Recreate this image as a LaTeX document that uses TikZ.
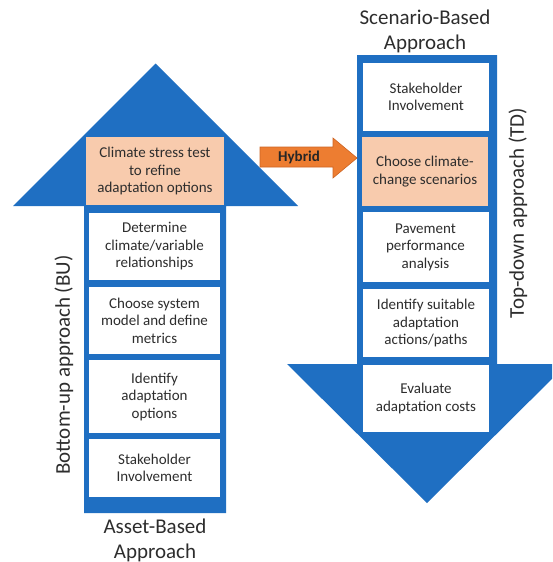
\documentclass[tikz,border=0pt]{standalone}
\usepackage{fontspec}
\setmainfont{Carlito}
\definecolor{flowblue}{RGB}{31,111,194}
\definecolor{peach}{RGB}{248,203,173}
\definecolor{hybridorange}{RGB}{237,125,49}
\definecolor{hybridedge}{RGB}{205,100,35}
\definecolor{inktext}{RGB}{45,45,45}
\begin{document}
\begin{tikzpicture}[x=1pt,y=-1pt,
  stagebox/.style={fill=white, inner sep=0pt, align=center, text=inktext,
    font=\fontsize{15}{17.5}\selectfont},
  leftbox/.style={stagebox, minimum width=131pt},
  rightbox/.style={stagebox, minimum width=126pt},
  keybox/.style={fill=peach},
  heading/.style={inner sep=0pt, align=center, text=inktext,
    font=\fontsize{21}{25}\selectfont},
  sidelabel/.style={inner sep=0pt, text=inktext, rotate=90,
    font=\fontsize{21}{25}\selectfont}]
\useasboundingbox (0,0) rectangle (552,562);
\clip (0,0) rectangle (552,562);

% bottom-up arrow (pointing up)
\fill[flowblue] (84,513) -- (84,206) -- (13,206) -- (155.5,63.5) -- (298,206)
  -- (226,206) -- (226,513) -- cycle;
% top-down arrow (pointing down)
\fill[flowblue] (357,55) -- (497,55) -- (497,364) -- (567,364) -- (427,503)
  -- (287,364) -- (357,364) -- cycle;

% bottom-up stages
\node[leftbox, keybox, minimum width=138pt, minimum height=68pt] (bu5) at (155,171)
  {Climate stress test\\to refine\\adaptation options};
\node[leftbox, minimum height=67pt] (bu4) at (154.5,246.5)
  {Determine\\climate/variable\\relationships};
\node[leftbox, minimum height=67pt] (bu3) at (154.5,320.5)
  {Choose system\\model and define\\metrics};
\node[leftbox, minimum height=73pt] (bu2) at (154.5,396.5)
  {Identify\\adaptation\\options};
\node[leftbox, minimum height=58pt] (bu1) at (154.5,468)
  {Stakeholder\\Involvement};

% top-down stages
\node[rightbox, minimum height=68pt] (td1) at (426,97)
  {Stakeholder\\Involvement};
\node[rightbox, keybox, minimum width=126pt, minimum height=69pt] (td2) at (425,171.5)
  {Choose climate-\\change scenarios};
\node[rightbox, minimum height=70pt] (td3) at (425.5,247)
  {Pavement\\performance\\analysis};
\node[rightbox, minimum height=68pt] (td4) at (426,323)
  {Identify suitable\\adaptation\\actions/paths};
\node[rightbox, minimum height=67pt] (td5) at (426,398.5)
  {Evaluate\\adaptation costs};

% hybrid link between the two approaches
\fill[hybridorange, draw=hybridedge, line width=0.6pt]
  (260,147) -- (333,147) -- (333,138) -- (357,158) -- (333,178)
  -- (333,167) -- (260,167) -- cycle;
\node[inner sep=0pt, text=black!85, font=\fontsize{15}{17}\selectfont\bfseries]
  (hyb) at (299,157) {Hybrid};

% headings and side labels
\node[heading] (scen) at (425,31) {Scenario-Based\\Approach};
\node[heading] (asset) at (155,540) {Asset-Based\\Approach};
\node[sidelabel] (bulabel) at (64,365) {Bottom-up approach (BU)};
\node[sidelabel] (tdlabel) at (518,213) {Top-down approach (TD)};
\end{tikzpicture}
\end{document}
